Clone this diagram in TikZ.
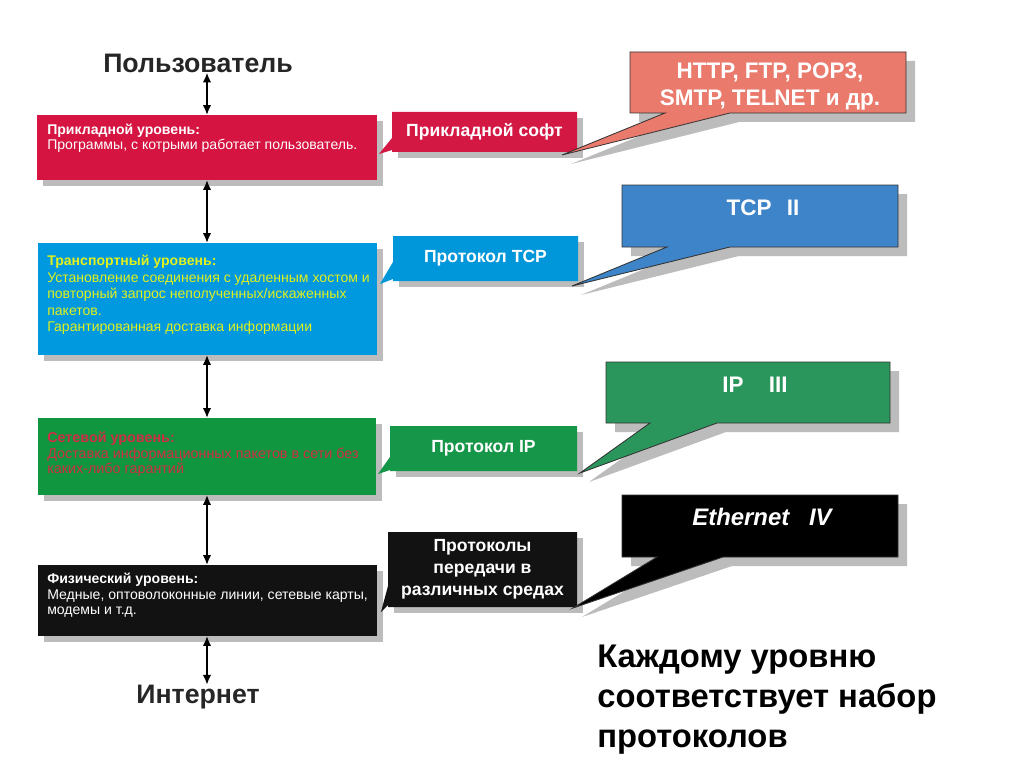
\documentclass[tikz,border=0pt]{standalone}
\usepackage{fontspec}
\setmainfont{Liberation Sans}
\usetikzlibrary{arrows.meta,fit}
\definecolor{redlvl}{RGB}{213,20,65}
\definecolor{redsm}{RGB}{212,24,68}
\definecolor{salmon}{RGB}{233,122,108}
\definecolor{bluelvl}{RGB}{0,152,222}
\definecolor{bluesm}{RGB}{0,150,218}
\definecolor{tcpblue}{RGB}{62,132,200}
\definecolor{greenlvl}{RGB}{16,150,62}
\definecolor{greensm}{RGB}{22,150,72}
\definecolor{ipgreen}{RGB}{42,150,92}
\definecolor{blk}{RGB}{18,18,18}
\definecolor{yellowtxt}{RGB}{225,240,30}
\definecolor{redtxt}{RGB}{205,45,70}
\definecolor{shadowc}{RGB}{188,188,188}
\definecolor{titlec}{RGB}{38,38,38}
\tikzset{
  box/.style={inner sep=0pt, outer sep=0pt},
  dbl/.style={{Latex[length=7pt,width=6pt]}-{Latex[length=7pt,width=6pt]}, line width=1.3pt, black},
  lvltext/.style={anchor=north west, inner sep=0pt, align=left},
  smtext/.style={text=white, font=\fontsize{12.5}{15.6}\selectfont\bfseries, align=center, inner sep=0pt},
  bigtext/.style={text=white, font=\fontsize{16}{19.2}\selectfont\bfseries, align=center, inner sep=0pt},
  titletext/.style={text=titlec, font=\fontsize{19}{22}\selectfont\bfseries, inner sep=0pt},
  bigborder/.style={draw=black!80, line width=0.6pt, line join=miter}
}
\begin{document}
\begin{tikzpicture}[x=0.025cm,y=-0.025cm]
\useasboundingbox (0,0) rectangle (1024,768);
\fill[white] (0,0) rectangle (1024,768);

% ---------- geometry (invisible nodes) ----------
\node[box, fit={(37,115) (377,180)}] (red) {};
\node[box, fit={(38,243) (377,355)}] (blue) {};
\node[box, fit={(38,418) (376,495)}] (green) {};
\node[box, fit={(38,565) (377,636)}] (black) {};

\node[box, fit={(392,112) (577,152)}] (sred) {};
\node[box, fit={(393,236) (578,281)}] (sblue) {};
\node[box, fit={(390,426) (577,471)}] (sgreen) {};
\node[box, fit={(388,532) (577,607)}] (sblack) {};

\node[box, fit={(630,52) (906,113)}] (b1) {};
\node[box, fit={(622,185) (898,247)}] (b2) {};
\node[box, fit={(606,362) (890,423)}] (b3) {};
\node[box, fit={(622,495) (898,557)}] (b4) {};

% small callout tails
\coordinate (s1a) at (392,138); \coordinate (s1b) at (392,150); \coordinate (s1t) at (379,154);
\coordinate (s2a) at (393,262); \coordinate (s2b) at (393,279); \coordinate (s2t) at (380,284);
\coordinate (s3a) at (390,457); \coordinate (s3b) at (390,470); \coordinate (s3t) at (378,474);
\coordinate (s4a) at (388,586); \coordinate (s4b) at (388,605); \coordinate (s4t) at (381,612);
% big callout tails
\coordinate (b1l) at (665,113); \coordinate (b1r) at (730,113); \coordinate (b1t) at (562,155);
\coordinate (b2l) at (667,247); \coordinate (b2r) at (730,247); \coordinate (b2t) at (572,286);
\coordinate (b3l) at (650,423); \coordinate (b3r) at (717,423); \coordinate (b3t) at (580,473);
\coordinate (b4l) at (657,557); \coordinate (b4r) at (723,557); \coordinate (b4t) at (573,608);

% ---------- shadows ----------
\begin{scope}[shadowc]
\foreach \n in {red,blue,green,black}{
  \fill ([shift={(6,6)}]\n.north west) rectangle ([shift={(6,6)}]\n.south east);
}
\foreach \n in {sred,sblue,sgreen,sblack}{
  \fill ([shift={(6,6)}]\n.north west) rectangle ([shift={(6,6)}]\n.south east);
}
\foreach \n in {b1,b2,b3,b4}{
  \fill ([shift={(9,9)}]\n.north west) -- ([shift={(9,9)}]\n.north east) -- ([shift={(9,9)}]\n.south east)
     -- ([shift={(9,9)}]\n r) -- ([shift={(9,9)}]\n t) -- ([shift={(9,9)}]\n l) -- ([shift={(9,9)}]\n.south west) -- cycle;
}
\end{scope}

% ---------- level boxes ----------
\fill[redlvl] (red.north west) rectangle (red.south east);
\fill[bluelvl] (blue.north west) rectangle (blue.south east);
\fill[greenlvl] (green.north west) rectangle (green.south east);
\fill[blk] (black.north west) rectangle (black.south east);

% ---------- small callouts ----------
\fill[redsm] (sred.north west) -- (sred.north east) -- (sred.south east) -- (sred.south west) -- (s1b) -- (s1t) -- (s1a) -- cycle;
\fill[bluesm] (sblue.north west) -- (sblue.north east) -- (sblue.south east) -- (sblue.south west) -- (s2b) -- (s2t) -- (s2a) -- cycle;
\fill[greensm] (sgreen.north west) -- (sgreen.north east) -- (sgreen.south east) -- (sgreen.south west) -- (s3b) -- (s3t) -- (s3a) -- cycle;
\fill[blk] (sblack.north west) -- (sblack.north east) -- (sblack.south east) -- (sblack.south west) -- (s4b) -- (s4t) -- (s4a) -- cycle;

% ---------- big callouts ----------
\filldraw[bigborder, fill=salmon] (b1.north west) -- (b1.north east) -- (b1.south east) -- (b1r) -- (b1t) -- (b1l) -- (b1.south west) -- cycle;
\filldraw[bigborder, fill=tcpblue] (b2.north west) -- (b2.north east) -- (b2.south east) -- (b2r) -- (b2t) -- (b2l) -- (b2.south west) -- cycle;
\filldraw[bigborder, fill=ipgreen] (b3.north west) -- (b3.north east) -- (b3.south east) -- (b3r) -- (b3t) -- (b3l) -- (b3.south west) -- cycle;
\filldraw[bigborder, fill=black] (b4.north west) -- (b4.north east) -- (b4.south east) -- (b4r) -- (b4t) -- (b4l) -- (b4.south west) -- cycle;

% ---------- level texts ----------
\node[lvltext, text=white, font=\fontsize{10}{10.7}\selectfont] (tred) at ([shift={(10,9)}]red.north west)
  {\textbf{Прикладной уровень:}\\Программы, с котрыми работает пользователь.};
\node[lvltext, text=yellowtxt, font=\fontsize{10}{11.7}\selectfont] (tblue) at ([shift={(9,12)}]blue.north west)
  {\textbf{Транспортный уровень:}\\Установление соединения с удаленным хостом и\\повторный запрос неполученных/искаженных\\пакетов.\\Гарантированная доставка информации};
\node[lvltext, text=redtxt, font=\fontsize{10.2}{11}\selectfont] (tgreen) at ([shift={(9,14)}]green.north west)
  {\textbf{Сетевой уровень:}\\Доставка информационных пакетов в сети без\\каких-либо гарантий};
\node[lvltext, text=white, font=\fontsize{10}{11}\selectfont] (tblack) at ([shift={(9,8)}]black.north west)
  {\textbf{Физический уровень:}\\Медные, оптоволоконные линии, сетевые карты,\\модемы и т.д.};

% ---------- callout texts ----------
\node[smtext] (tsred) at (sred.center) {Прикладной софт};
\node[smtext] (tsblue) at (sblue.center) {Протокол TCP};
\node[smtext] (tsgreen) at (sgreen.center) {Протокол IP};
\node[smtext] (tsblack) at (sblack.center) {Протоколы\\передачи в\\различных средах};

\node[bigtext] (tb1) at (770,86) {HTTP, FTP, POP3,\\SMTP, TELNET и др.};
\node[bigtext] (tb2) at (763,208) {TCP\hspace{11pt}II};
\node[bigtext] (tb3) at (755,385) {IP\hspace{18pt}III};
\node[bigtext, font=\fontsize{17}{20}\selectfont\bfseries\itshape] (tb4) at (762,517) {Ethernet\hspace{14pt}IV};

% ---------- ends ----------
\node[titletext] (user) at (198,63) {Пользователь};
\node[titletext] (inet) at (198,697) {Интернет};

\coordinate (ax) at (207,0);
\draw[dbl] (user.south -| ax) -- (red.north -| ax);
\draw[dbl] (red.south -| ax) -- (blue.north -| ax);
\draw[dbl] (blue.south -| ax) -- (green.north -| ax);
\draw[dbl] (green.south -| ax) -- (black.north -| ax);
\draw[dbl] (black.south -| ax) -- (inet.north -| ax);

% ---------- note ----------
\node[anchor=north west, inner sep=0pt, align=left, font=\fontsize{23.3}{28.5}\selectfont\bfseries, text=black] (note) at (597,645)
  {Каждому уровню\\соответствует набор\\протоколов};
\end{tikzpicture}
\end{document}
